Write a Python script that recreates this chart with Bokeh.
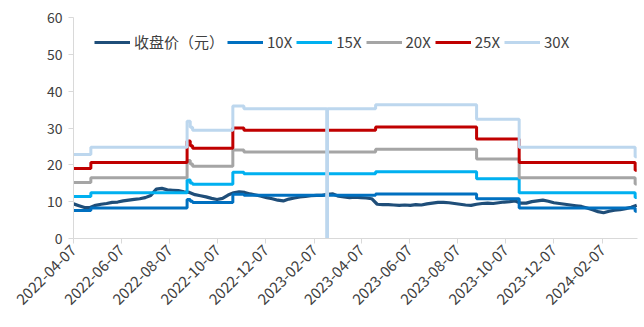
import math

import pandas as pd
from bokeh.embed import file_html
from bokeh.models import (DatetimeTickFormatter, FixedTicker, Legend,
                          LegendItem, Range1d)
from bokeh.plotting import figure
from bokeh.resources import INLINE

# Weekly closing price (元), one value per week starting 2022-04-07
close_start = "2022-04-07"
close_values = [
    9.4, 8.9, 8.4, 8.4, 9.0, 9.3, 9.5, 9.8, 9.9, 10.2,
    10.4, 10.6, 10.8, 11.1, 11.7, 13.4, 13.6, 13.2, 13.1, 13.0,
    12.7, 12.5, 11.9, 11.6, 11.3, 10.9, 10.6, 10.9, 11.8, 12.4,
    12.7, 12.5, 12.1, 11.8, 11.5, 11.1, 10.8, 10.4, 10.2, 10.7,
    11.0, 11.3, 11.4, 11.6, 11.7, 11.7, 12.0, 12.1, 11.5, 11.3,
    11.1, 11.2, 11.1, 11.0, 10.8, 9.3, 9.2, 9.2, 9.1, 9.0,
    9.1, 9.0, 9.2, 9.1, 9.4, 9.6, 9.8, 9.8, 9.7, 9.5,
    9.3, 9.1, 9.0, 9.3, 9.5, 9.6, 9.5, 9.7, 9.9, 10.0,
    10.2, 9.6, 9.6, 10.0, 10.2, 10.4, 10.1, 9.7, 9.5, 9.3,
    9.1, 8.9, 8.7, 8.3, 7.8, 7.3, 7.0, 7.4, 7.7, 7.8,
    8.1, 8.5, 9.0,
]

# PE band levels, each holding from its date until the next one
band_dates = [
    "2022-04-07", "2022-04-29", "2022-08-29", "2022-09-02", "2022-09-05",
    "2022-10-26", "2022-11-09", "2023-02-22", "2023-02-23", "2023-04-25",
    "2023-08-31", "2023-10-24", "2024-03-19", "2024-03-21",
]
pe10 = [7.6, 8.25, 10.6, 10.1, 9.8, 12.0, 11.75, 11.75, 11.75, 12.1, 10.8, 8.25, 7.4, 7.4]
pe15 = [11.4, 12.4, 15.9, 15.1, 14.7, 18.0, 17.6, 17.6, 17.6, 18.15, 16.2, 12.4, 11.1, 11.1]
pe20 = [15.2, 16.5, 21.2, 20.2, 19.6, 24.0, 23.5, 23.5, 23.5, 24.2, 21.6, 16.5, 14.8, 14.8]
pe25 = [19.0, 20.6, 26.5, 25.2, 24.5, 30.0, 29.4, 29.4, 29.4, 30.25, 27.0, 20.6, 18.5, 18.5]
pe30 = [22.8, 24.75, 31.8, 30.2, 29.4, 36.0, 35.25, 0, 35.25, 36.3, 32.4, 24.75, 22.2, 22.2]

tick_labels = [
    "2022-04-07", "2022-06-07", "2022-08-07", "2022-10-07", "2022-12-07",
    "2023-02-07", "2023-04-07", "2023-06-07", "2023-08-07", "2023-10-07",
    "2023-12-07", "2024-02-07",
]
y_ticks = [0, 10, 20, 30, 40, 50, 60]

series_names = ["10X", "15X", "20X", "25X", "30X"]
series_values = [pe10, pe15, pe20, pe25, pe30]
series_colors = ["#0070C0", "#00B0F0", "#A5A5A5", "#C00000", "#BDD7EE"]
close_color = "#1F4E79"

FONT = "Noto Sans CJK SC"
TEXT_COLOR = "#404040"
AXIS_COLOR = "#D9D9D9"

close_x = pd.date_range(close_start, periods=len(close_values), freq="7D")
band_x = pd.to_datetime(band_dates)

p = figure(
    width=644, height=327,
    x_axis_type="datetime",
    x_range=Range1d(pd.Timestamp("2022-04-07"), pd.Timestamp("2024-03-22")),
    y_range=Range1d(0, 60),
    output_backend="svg", toolbar_location=None,
    min_border_left=73, min_border_right=7,
    min_border_top=17, min_border_bottom=89,
)
p.outline_line_color = None
p.xgrid.grid_line_color = None
p.ygrid.grid_line_color = None
p.background_fill_color = "white"
p.border_fill_color = "white"

r_close = p.line(close_x, close_values, line_color=close_color, line_width=3.2)
band_renderers = []
for vals, color in zip(series_values, series_colors):
    r = p.step(band_x, vals, mode="after", line_color=color, line_width=3)
    band_renderers.append(r)

# Axes
tick_ms = [pd.Timestamp(t).value // 10**6 for t in tick_labels]
p.xaxis.ticker = FixedTicker(ticks=tick_ms)
fmt = "%Y-%m-%d"
p.xaxis.formatter = DatetimeTickFormatter(
    milliseconds=fmt, seconds=fmt, minsec=fmt, minutes=fmt, hourmin=fmt,
    hours=fmt, days=fmt, months=fmt, years=fmt,
)
p.xaxis.major_label_orientation = math.pi / 4
p.yaxis.ticker = FixedTicker(ticks=y_ticks)

for ax in (p.xaxis, p.yaxis):
    ax.axis_line_color = AXIS_COLOR
    ax.major_tick_line_color = AXIS_COLOR
    ax.minor_tick_line_color = None
    ax.major_tick_out = 5
    ax.major_tick_in = 0
    ax.major_label_text_font = FONT
    ax.major_label_text_color = TEXT_COLOR
p.xaxis.major_label_text_font_size = "15px"
p.yaxis.major_label_text_font_size = "14px"
p.xaxis.major_label_standoff = 4
p.yaxis.major_label_standoff = 6


def make_legend(items, loc):
    return Legend(
        items=items, location=loc, orientation="horizontal",
        border_line_color=None, background_fill_alpha=0,
        padding=0, margin=0, spacing=4,
        glyph_width=36, glyph_height=16, label_height=16, label_standoff=4,
        label_text_font=FONT, label_text_font_size="15px",
        label_text_color=TEXT_COLOR,
    )


legend_close = make_legend([LegendItem(label="收盘价（元）", renderers=[r_close])], (21, 186))
legend_bands = make_legend(
    [LegendItem(label=n, renderers=[r]) for n, r in zip(series_names, band_renderers)],
    (154, 186),
)
p.add_layout(legend_close)
p.add_layout(legend_bands)

open("out.html", "w").write(file_html(p, INLINE))
